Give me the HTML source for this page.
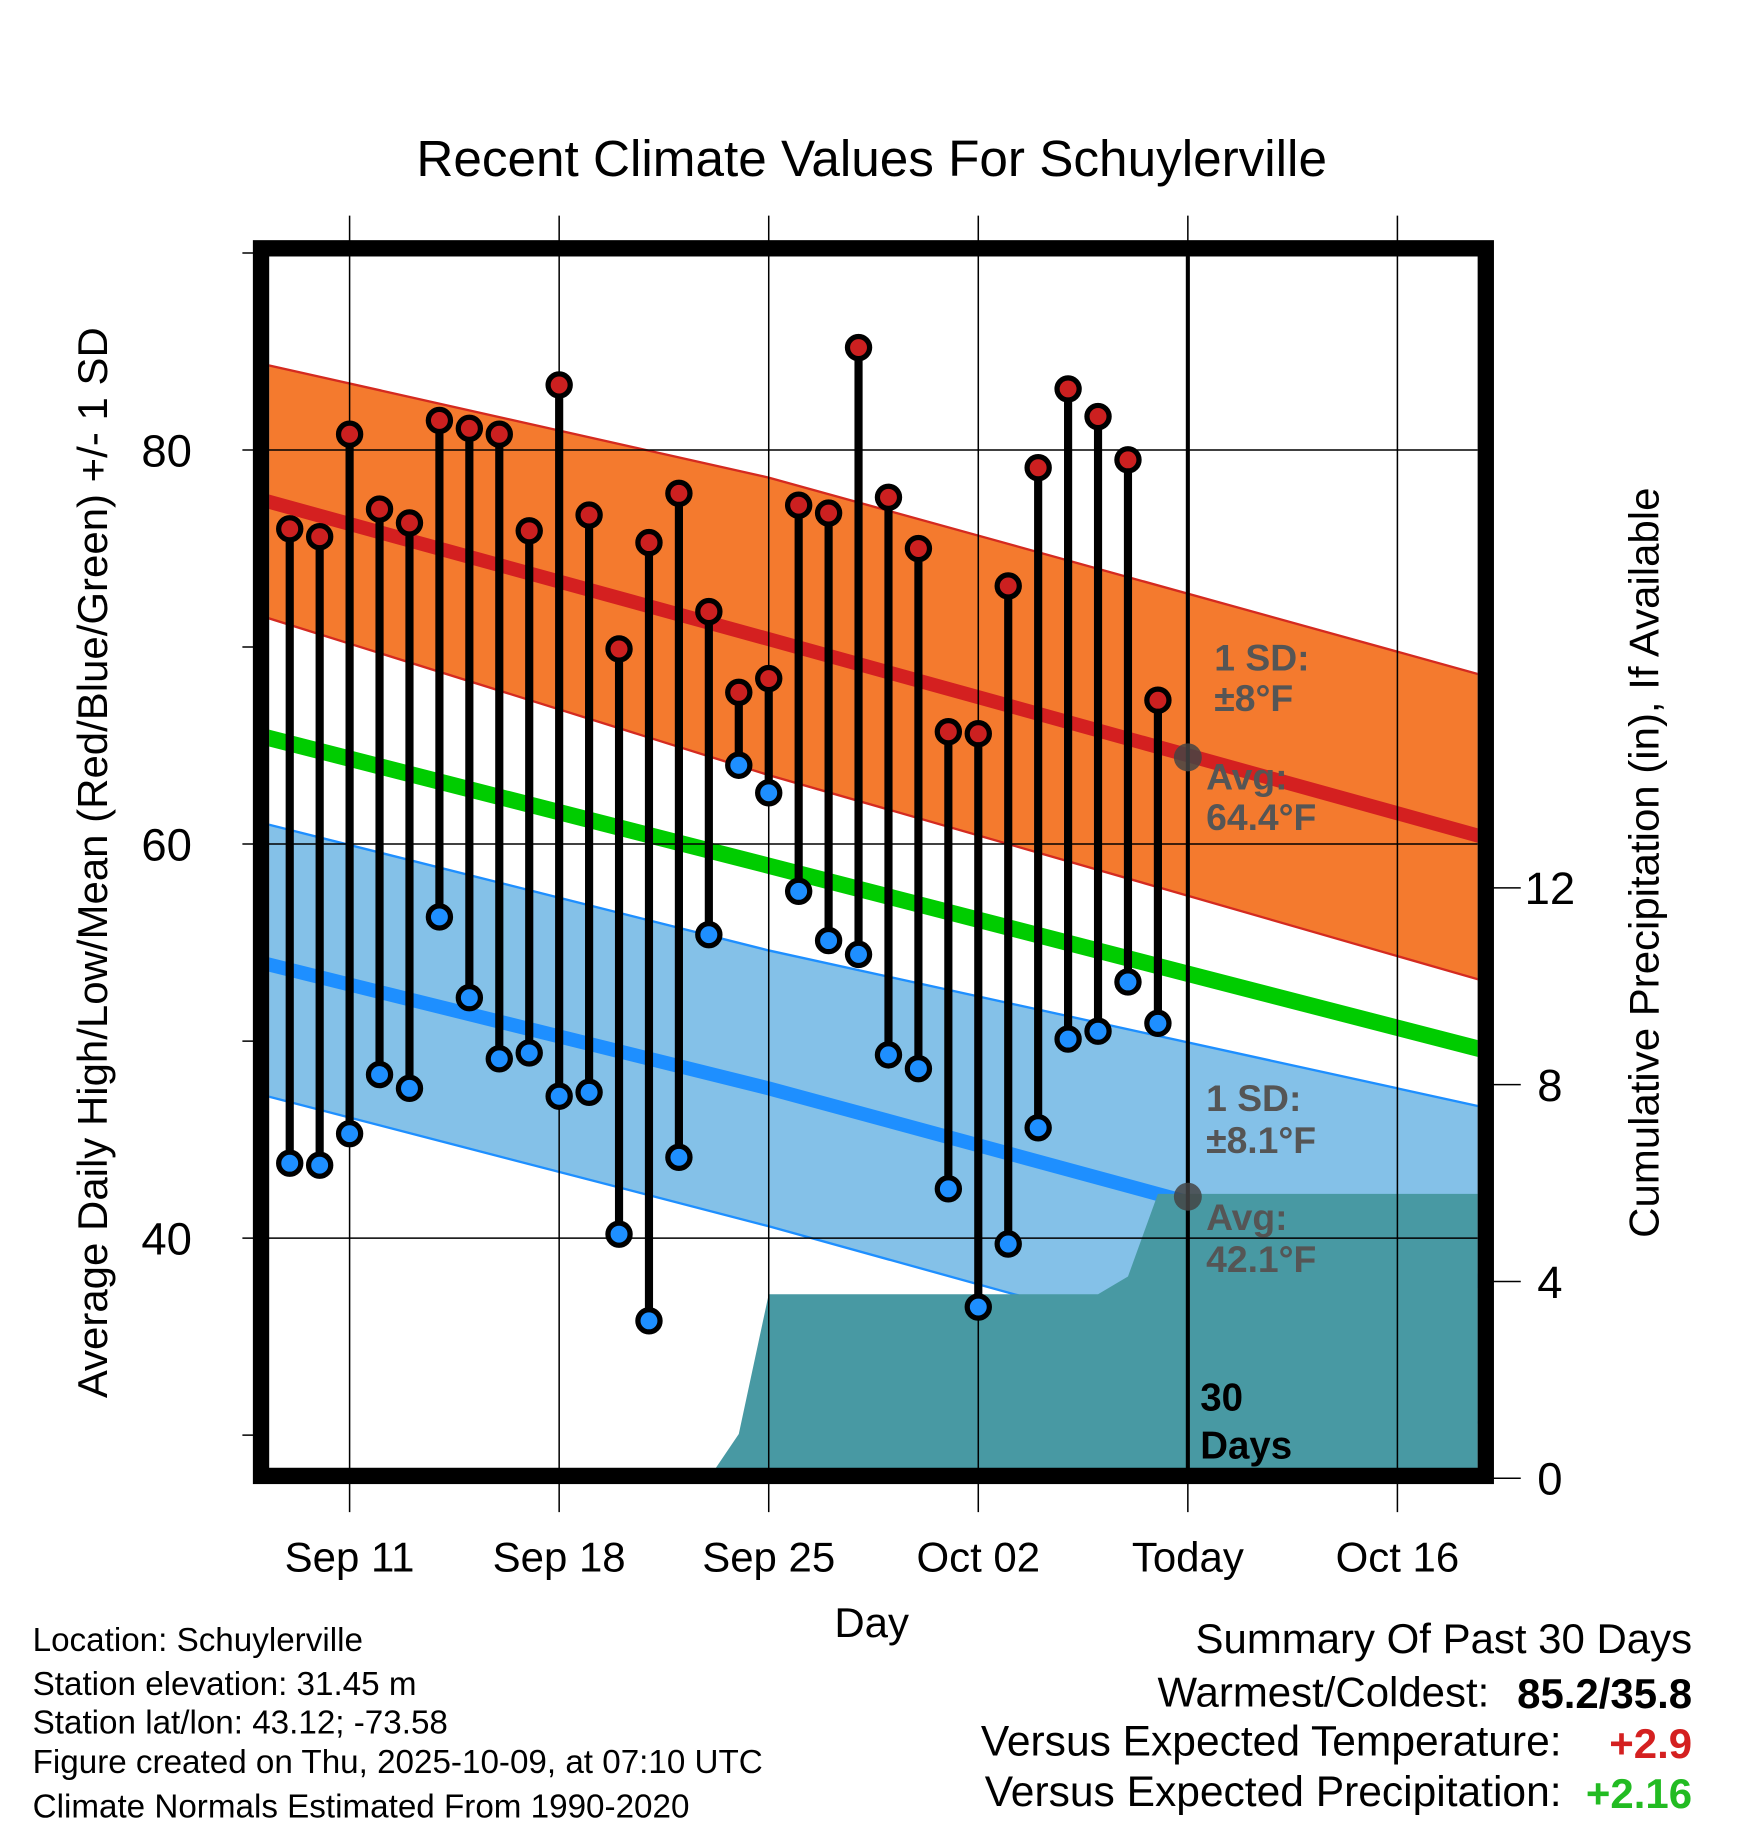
<!DOCTYPE html>
<html><head><meta charset="utf-8"><style>
html,body{margin:0;padding:0;background:#fff;}
svg{display:block;font-family:"Liberation Sans",sans-serif;}
</style></head><body>
<svg id="chart" width="1748" height="1828" viewBox="0 0 1500 1568" preserveAspectRatio="none" xmlns="http://www.w3.org/2000/svg">
<defs><clipPath id="plotclip"><rect x="231" y="220" width="1037" height="1040"/></clipPath></defs>
<g id="layer-fill" clip-path="url(#plotclip)"></g>
<g id="layer-grid"></g>
<g id="layer-marks"></g>
<g id="layer-text"></g>
</svg>
<script>
const normDays=[-3,14,38];
const hiUpper=[84.4,78.6,68.5];
const hiMean=[77.5,70.4,60.3];
const hiLower=[71.6,63.5,53.0];
const avgMean=[65.5,58.9,49.5];
const loUpper=[61.1,54.6,46.6];
const loMean=[54.0,47.6,37.7];
const loLower=[47.3,40.6,30.5];
const obsDays=[-2,-1,0,1,2,3,4,5,6,7,8,9,10,11,12,13,14,15,16,17,18,19,20,21,22,23,24,25,26,27];
const highs=[76.0,75.6,80.8,77.0,76.3,81.5,81.1,80.8,75.9,83.3,76.7,69.9,75.3,77.8,71.8,67.7,68.4,77.2,76.8,85.2,77.6,75.0,65.7,65.6,73.1,79.1,83.1,81.7,79.5,67.3];
const lows=[43.8,43.7,45.3,48.3,47.6,56.3,52.2,49.1,49.4,47.2,47.4,40.2,35.8,44.1,55.4,64.0,62.6,57.6,55.1,54.4,49.3,48.6,42.5,36.5,39.7,45.6,50.1,50.5,53.0,50.9];
const precip=[0,0,0,0,0,0,0,0,0,0,0,0,0,0,0,0.9,3.74,3.74,3.74,3.74,3.74,3.74,3.74,3.74,3.74,3.74,3.74,3.74,4.1,5.78];
const xTickDays=[0,7,14,21,28,35];
const xTickLabels=["Sep 11","Sep 18","Sep 25","Oct 02","Today","Oct 16"];
const yTicks=[30,40,50,60,70,80,90];
const yLabels=[40,60,80];
const pTicks=[0,4,8,12];
const todayDay=28;
const todayHi=64.4, todayLo=42.1;

const NS="http://www.w3.org/2000/svg";
const X=d=>300+d*25.69;
const Y=v=>386-(v-80)*16.9;
const YP=p=>1268-p*42.2;
function mk(tag,attrs,parent){const e=document.createElementNS(NS,tag);for(const k in attrs)e.setAttribute(k,attrs[k]);parent.appendChild(e);return e;}
const fill=document.getElementById('layer-fill');
const grid=document.getElementById('layer-grid');
const marks=document.getElementById('layer-marks');
const txt=document.getElementById('layer-text');
const line=a=>normDays.map((d,i)=>X(d)+','+Y(a[i])).join(' ');
const band=(u,l)=>line(u)+' '+normDays.map((d,i)=>X(d)+','+Y(l[i])).reverse().join(' ');

let e;
e=mk('polygon',{points:band(hiUpper,hiLower),fill:'#f47a2e',stroke:'#d42a20','stroke-width':2},fill);

e=mk('polygon',{points:band(loUpper,loLower),fill:'#84c1e8',stroke:'#1e8fff','stroke-width':2},fill);

e=mk('polyline',{points:line(hiMean),fill:'none',stroke:'#d42020','stroke-width':12},fill);

e=mk('polyline',{points:line(avgMean),fill:'none',stroke:'#00cc00','stroke-width':14},fill);

e=mk('polyline',{points:line(loMean),fill:'none',stroke:'#1e8fff','stroke-width':12},fill);

let pp=[X(obsDays[0])+','+YP(0)];
obsDays.forEach((d,i)=>pp.push(X(d)+','+YP(precip[i])));
pp.push(X(40)+','+YP(precip[precip.length-1]));pp.push(X(40)+','+YP(0));
e=mk('polygon',{points:pp.join(' '),fill:'#4899a3'},fill);


xTickDays.forEach((d,i)=>{
  e=mk('line',{x1:X(d),x2:X(d),y1:185,y2:1297,stroke:'#000','stroke-width':1.3},grid);
  
  e=mk('text',{x:X(d),y:1348,'font-size':36,'text-anchor':'middle',fill:'#000'},txt);
  e.textContent=xTickLabels[i];
  
});
yTicks.forEach(v=>{
  const full=yLabels.includes(v);
  e=mk('line',{x1:208,x2:full?1268:224,y1:Y(v),y2:Y(v),stroke:'#000','stroke-width':1.3},grid);
  
  if(full){e=mk('text',{x:143,y:Y(v)+14,'font-size':39,'text-anchor':'middle',fill:'#000'},txt);
  e.textContent=v;
  }
});
pTicks.forEach(p=>{
  e=mk('line',{x1:1276,x2:1305,y1:YP(p),y2:YP(p),stroke:'#000','stroke-width':1.3},grid);
  
  e=mk('text',{x:1330,y:YP(p)+14,'font-size':39,'text-anchor':'middle',fill:'#000'},txt);
  e.textContent=p;
  
});
e=mk('line',{x1:X(todayDay),x2:X(todayDay),y1:220,y2:1262,stroke:'#000','stroke-width':3.5},grid);

e=mk('rect',{x:224,y:213,width:1051,height:1053,fill:'none',stroke:'#000','stroke-width':14},grid);


obsDays.forEach((d,i)=>{
  e=mk('line',{x1:X(d),x2:X(d),y1:Y(highs[i]),y2:Y(lows[i]),stroke:'#000','stroke-width':7},marks);
  
});
obsDays.forEach((d,i)=>{
  e=mk('circle',{cx:X(d),cy:Y(highs[i]),r:9.5,fill:'#cc2020',stroke:'#000','stroke-width':4.5},marks);
  
  e=mk('circle',{cx:X(d),cy:Y(lows[i]),r:9.5,fill:'#1e8fff',stroke:'#000','stroke-width':4.5},marks);
  
});
e=mk('circle',{cx:X(todayDay),cy:Y(todayHi),r:12,fill:'#444','fill-opacity':0.85},marks);

e=mk('circle',{cx:X(todayDay),cy:Y(todayLo),r:12,fill:'#444','fill-opacity':0.85},marks);

</script>
<script>
(function(){
const t=document.getElementById('layer-text');
const items=[
 ['chart-title',748,151,44,'middle','normal','#000','Recent Climate Values For Schuylerville'],
 ['x-axis-title',748,1404,36,'middle','normal','#000','Day'],
 ['high-sd-label',1042,575,32,'start','bold','#555','1 SD:'],
 ['high-sd-value',1042,610,32,'start','bold','#555','±8°F'],
 ['high-avg-label',1035,677,32,'start','bold','#555','Avg:'],
 ['high-avg-value',1035,712,32,'start','bold','#555','64.4°F'],
 ['low-sd-label',1035,953,32,'start','bold','#555','1 SD:'],
 ['low-sd-value',1035,989,32,'start','bold','#555','±8.1°F'],
 ['low-avg-label',1035,1055,32,'start','bold','#555','Avg:'],
 ['low-avg-value',1035,1091,32,'start','bold','#555','42.1°F'],
 ['days-label-1',1030,1210,33,'start','bold','#000','30'],
 ['days-label-2',1030,1251,33,'start','bold','#000','Days'],
 ['location-text',28,1416,28.5,'start','normal','#000','Location: Schuylerville'],
 ['elevation-text',28,1454,28.5,'start','normal','#000','Station elevation: 31.45 m'],
 ['latlon-text',28,1487,28.5,'start','normal','#000','Station lat/lon: 43.12; -73.58'],
 ['created-text',28,1521,28.5,'start','normal','#000','Figure created on Thu, 2025-10-09, at 07:10 UTC'],
 ['normals-text',28,1559,28.5,'start','normal','#000','Climate Normals Estimated From 1990-2020'],
 ['summary-title',1452,1418,36,'end','normal','#000','Summary Of Past 30 Days'],
 ['warmest-label',1278,1464,36,'end','normal','#000','Warmest/Coldest:'],
 ['warmest-value',1452,1465,36,'end','bold','#000','85.2/35.8'],
 ['temp-label',1340,1506,36.5,'end','normal','#000','Versus Expected Temperature:'],
 ['temp-value',1452,1508,36,'end','bold','#d42020','+2.9'],
 ['precip-label',1340,1549,36.5,'end','normal','#000','Versus Expected Precipitation:'],
 ['precip-value',1452,1551,36,'end','bold','#22bb22','+2.16']
];
items.forEach(a=>{
 const e=document.createElementNS("http://www.w3.org/2000/svg",'text');
 e.setAttribute('x',a[1]);e.setAttribute('y',a[2]);e.setAttribute('font-size',a[3]);
 e.setAttribute('text-anchor',a[4]);e.setAttribute('font-weight',a[5]);e.setAttribute('fill',a[6]);
 e.textContent=a[7];
 
 
 t.appendChild(e);
});
function rot(name,x,y,s){
 const e=document.createElementNS("http://www.w3.org/2000/svg",'text');
 e.setAttribute('x',0);e.setAttribute('y',0);e.setAttribute('font-size',36);
 e.setAttribute('text-anchor','middle');e.setAttribute('transform','translate('+x+','+y+') rotate(-90)');
 e.textContent=s;
 
 
 t.appendChild(e);
}
rot('y-axis-title',92,740,'Average Daily High/Low/Mean (Red/Blue/Green) +/- 1 SD');
rot('precip-axis-title',1423,740,'Cumulative Precipitation (in), If Available');
})();
</script>
</body></html>
